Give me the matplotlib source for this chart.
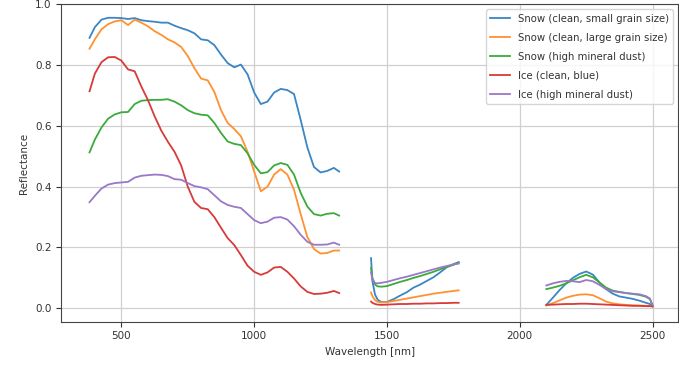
import matplotlib
matplotlib.use("Agg")
import matplotlib.pyplot as plt

# wavelength grids (three pieces, water absorption gaps removed)
wl_vis = [380, 400, 425, 450, 475, 500, 525, 550, 575, 600, 625, 650, 675, 700, 725, 750,
          775, 800, 825, 850, 875, 900, 925, 950, 975, 1000, 1025, 1050, 1075, 1100, 1125,
          1150, 1175, 1200, 1225, 1250, 1275, 1300, 1320]
wl_swir1 = [1440, 1445, 1455, 1465, 1480, 1500, 1525, 1550, 1575, 1600, 1625, 1650, 1675,
            1700, 1725, 1750, 1770]
wl_swir2 = [2100, 2125, 2150, 2175, 2200, 2225, 2250, 2275, 2300, 2325, 2350, 2375, 2400,
            2425, 2450, 2475, 2490, 2500]

labels = ["Snow (clean, small grain size)", "Snow (clean, large grain size)",
          "Snow (high mineral dust)", "Ice (clean, blue)", "Ice (high mineral dust)"]
colors = ["#3a86c4", "#ff9130", "#3aab3a", "#d83a3a", "#9a78c8"]

# Snow (clean, small grain size)
snow_small_vis = [0.89, 0.925, 0.95, 0.956, 0.956, 0.955, 0.952, 0.955, 0.948, 0.945, 0.943,
                  0.94, 0.94, 0.93, 0.922, 0.915, 0.905, 0.885, 0.882, 0.866, 0.835, 0.807,
                  0.793, 0.802, 0.77, 0.71, 0.672, 0.68, 0.71, 0.722, 0.718, 0.705, 0.62,
                  0.53, 0.465, 0.447, 0.452, 0.462, 0.45]
snow_small_s1 = [0.165, 0.09, 0.045, 0.028, 0.02, 0.021, 0.03, 0.042, 0.053, 0.068, 0.078,
                 0.09, 0.102, 0.118, 0.135, 0.145, 0.152]
snow_small_s2 = [0.011, 0.035, 0.06, 0.082, 0.1, 0.113, 0.121, 0.111, 0.085, 0.063, 0.048,
                 0.039, 0.035, 0.031, 0.025, 0.018, 0.014, 0.006]

# Snow (clean, large grain size)
snow_large_vis = [0.854, 0.885, 0.918, 0.935, 0.944, 0.948, 0.932, 0.95, 0.94, 0.928, 0.912,
                  0.9, 0.885, 0.875, 0.86, 0.83, 0.79, 0.756, 0.75, 0.712, 0.652, 0.61, 0.59,
                  0.566, 0.515, 0.45, 0.385, 0.40, 0.44, 0.458, 0.44, 0.39, 0.31, 0.235,
                  0.195, 0.18, 0.182, 0.19, 0.19]
snow_large_s1 = [0.052, 0.04, 0.027, 0.021, 0.019, 0.02, 0.024, 0.028, 0.032, 0.036, 0.04,
                 0.044, 0.048, 0.051, 0.054, 0.057, 0.059]
snow_large_s2 = [0.009, 0.017, 0.026, 0.035, 0.041, 0.045, 0.046, 0.043, 0.033, 0.022, 0.016,
                 0.013, 0.011, 0.01, 0.009, 0.008, 0.008, 0.006]

# Snow (high mineral dust)
snow_dust_vis = [0.513, 0.555, 0.595, 0.624, 0.638, 0.645, 0.646, 0.672, 0.683, 0.685, 0.686,
                 0.686, 0.688, 0.68, 0.668, 0.652, 0.642, 0.637, 0.635, 0.61, 0.577, 0.549,
                 0.541, 0.537, 0.51, 0.472, 0.444, 0.448, 0.47, 0.478, 0.472, 0.44, 0.38,
                 0.335, 0.31, 0.305, 0.311, 0.313, 0.305]
snow_dust_s1 = [0.132, 0.1, 0.078, 0.072, 0.071, 0.073, 0.08, 0.087, 0.093, 0.1, 0.106, 0.113,
                0.12, 0.128, 0.136, 0.143, 0.15]
snow_dust_s2 = [0.063, 0.068, 0.074, 0.082, 0.092, 0.102, 0.11, 0.102, 0.085, 0.068, 0.058,
                0.054, 0.05, 0.047, 0.044, 0.038, 0.03, 0.01]

# Ice (clean, blue)
ice_blue_vis = [0.714, 0.772, 0.81, 0.826, 0.827, 0.815, 0.786, 0.78, 0.73, 0.685, 0.632,
                0.585, 0.548, 0.515, 0.47, 0.40, 0.35, 0.33, 0.326, 0.3, 0.265, 0.231, 0.208,
                0.175, 0.14, 0.12, 0.11, 0.118, 0.134, 0.136, 0.12, 0.098, 0.072, 0.054,
                0.047, 0.048, 0.051, 0.057, 0.05]
ice_blue_s1 = [0.022, 0.018, 0.014, 0.012, 0.011, 0.012, 0.013, 0.014, 0.014, 0.015, 0.015,
               0.016, 0.016, 0.017, 0.017, 0.018, 0.018]
ice_blue_s2 = [0.011, 0.012, 0.013, 0.014, 0.014, 0.015, 0.015, 0.014, 0.013, 0.012, 0.011,
               0.01, 0.009, 0.008, 0.008, 0.007, 0.007, 0.006]

# Ice (high mineral dust)
ice_dust_vis = [0.349, 0.37, 0.394, 0.407, 0.412, 0.414, 0.416, 0.43, 0.436, 0.438, 0.44,
                0.439, 0.435, 0.425, 0.423, 0.412, 0.402, 0.398, 0.392, 0.372, 0.352, 0.34,
                0.334, 0.33, 0.31, 0.29, 0.28, 0.285, 0.298, 0.30, 0.292, 0.27, 0.242, 0.219,
                0.209, 0.209, 0.21, 0.216, 0.209]
ice_dust_s1 = [0.118, 0.095, 0.083, 0.082, 0.084, 0.087, 0.093, 0.099, 0.104, 0.11, 0.116,
               0.122, 0.128, 0.134, 0.139, 0.144, 0.147]
ice_dust_s2 = [0.075, 0.082, 0.087, 0.09, 0.089, 0.086, 0.093, 0.089, 0.077, 0.063, 0.056,
               0.053, 0.05, 0.048, 0.046, 0.04, 0.032, 0.01]

series = [
    (snow_small_vis, snow_small_s1, snow_small_s2),
    (snow_large_vis, snow_large_s1, snow_large_s2),
    (snow_dust_vis, snow_dust_s1, snow_dust_s2),
    (ice_blue_vis, ice_blue_s1, ice_blue_s2),
    (ice_dust_vis, ice_dust_s1, ice_dust_s2),
]

fig, ax = plt.subplots(figsize=(6.79, 3.68), dpi=100)
fig.subplots_adjust(left=0.09, right=0.999, top=0.988, bottom=0.126)

for (vis, s1, s2), lab, c in zip(series, labels, colors):
    ax.plot(wl_vis, vis, color=c, lw=1.3, label=lab)
    ax.plot(wl_swir1, s1, color=c, lw=1.3)
    ax.plot(wl_swir2, s2, color=c, lw=1.3)

ax.set_xlim(273, 2597)
ax.set_ylim(-0.044, 1.0)
ax.set_xticks([500, 1000, 1500, 2000, 2500])
ax.set_yticks([0.0, 0.2, 0.4, 0.6, 0.8, 1.0])
ax.tick_params(labelsize=7.5, colors="#333333")
for s in ax.spines.values():
    s.set_color("#444444")
ax.set_xlabel("Wavelength [nm]", fontsize=7.5, color="#333333")
ax.set_ylabel("Reflectance", fontsize=7.5, color="#333333")
ax.grid(True, color="#d0d0d0", lw=0.9)
leg = ax.legend(loc="upper right", fontsize=7.3, labelspacing=0.9)
for t in leg.get_texts():
    t.set_color("#333333")

fig.savefig("out.png", dpi=100)
